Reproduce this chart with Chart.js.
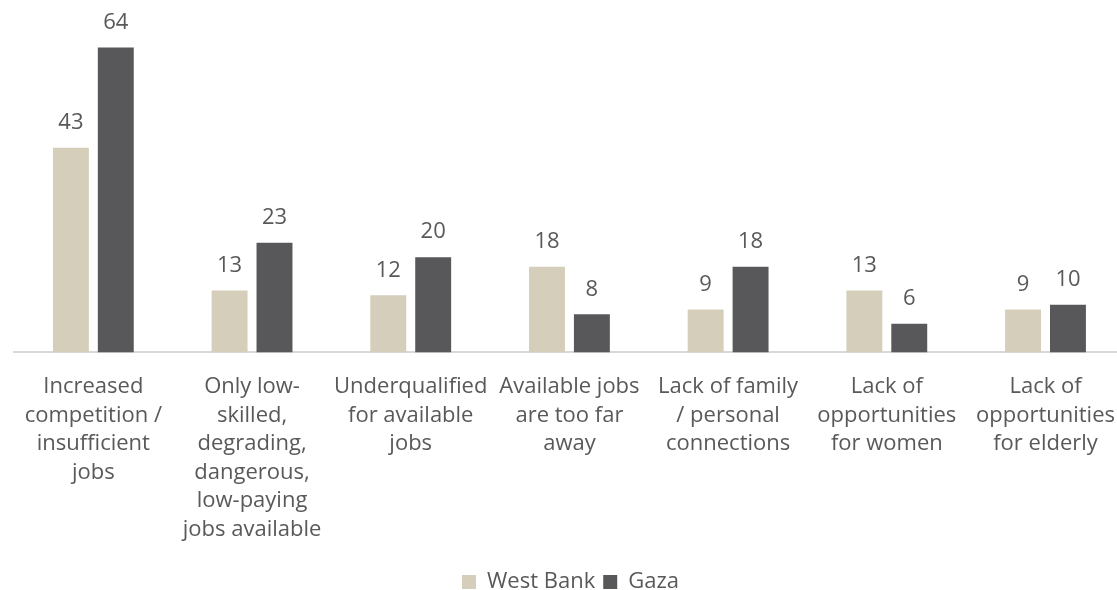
<!DOCTYPE html>
<html>
<head>
<meta charset="utf-8">
<script src="https://cdn.jsdelivr.net/npm/chart.js@4/dist/chart.umd.min.js"></script>
<style>
  html, body { margin: 0; padding: 0; background: #fff; overflow: hidden; width: 1117px; height: 590px; }
  #clip { position: relative; width: 1117px; height: 590px; overflow: hidden; }
  #wrap { position: absolute; left: 0; top: 0; width: 1127px; height: 590px; }
</style>
</head>
<body>
<div id="clip"><div id="wrap"><canvas id="chart"></canvas></div></div>
<script>
const categories = [
  ["Increased", "competition /", "insufficient", "jobs"],
  ["Only low-", "skilled,", "degrading,", "dangerous,", "low-paying", "jobs available"],
  ["Underqualified", "for available", "jobs"],
  ["Available jobs", "are too far", "away"],
  ["Lack of family", "/ personal", "connections"],
  ["Lack of", "opportunities", "for women"],
  ["Lack of", "opportunities", "for elderly"]
];
const westBank = [43, 13, 12, 18, 9, 13, 9];
const gaza = [64, 23, 20, 8, 18, 6, 10];

const TEXT = '#595959';
const FONT = '"Open Sans", "Noto Sans", sans-serif';
const SIZE = 22;

// Writes each bar's value just above it
const valueLabels = {
  id: 'valueLabels',
  afterDatasetsDraw(chart) {
    const ctx = chart.ctx;
    ctx.save();
    ctx.font = SIZE + 'px ' + FONT;
    ctx.fillStyle = TEXT;
    ctx.textAlign = 'center';
    ctx.textBaseline = 'middle';
    chart.data.datasets.forEach((ds, i) => {
      chart.getDatasetMeta(i).data.forEach((bar, j) => {
        ctx.fillText(String(ds.data[j]), bar.x, bar.y - 25);
      });
    });
    ctx.restore();
  }
};

new Chart(document.getElementById('chart'), {
  type: 'bar',
  data: {
    labels: categories,
    datasets: [
      { label: 'West Bank', data: westBank, backgroundColor: '#D4CEBA' },
      { label: 'Gaza', data: gaza, backgroundColor: '#58585A' }
    ]
  },
  options: {
    responsive: true,
    maintainAspectRatio: false,
    animation: false,
    categoryPercentage: 0.566,
    barPercentage: 0.8,
    layout: { padding: { left: 14, right: 0, top: 0, bottom: -13 } },
    scales: {
      y: { display: false, min: 0, max: 74 },
      x: {
        grid: { display: false },
        border: { display: true, color: '#D9D9D9', width: 2 },
        ticks: {
          color: TEXT,
          font: { family: FONT, size: SIZE, lineHeight: 1.3 },
          padding: 12,
          maxRotation: 0,
          autoSkip: false
        },
        afterFit(scale) { scale.height += 7; }
      }
    },
    plugins: {
      tooltip: { enabled: false },
      legend: {
        position: 'bottom',
        labels: {
          color: TEXT,
          font: { family: FONT, size: SIZE },
          boxWidth: 14,
          boxHeight: 14,
          padding: 8
        }
      }
    }
  },
  plugins: [valueLabels]
});
</script>
</body>
</html>
